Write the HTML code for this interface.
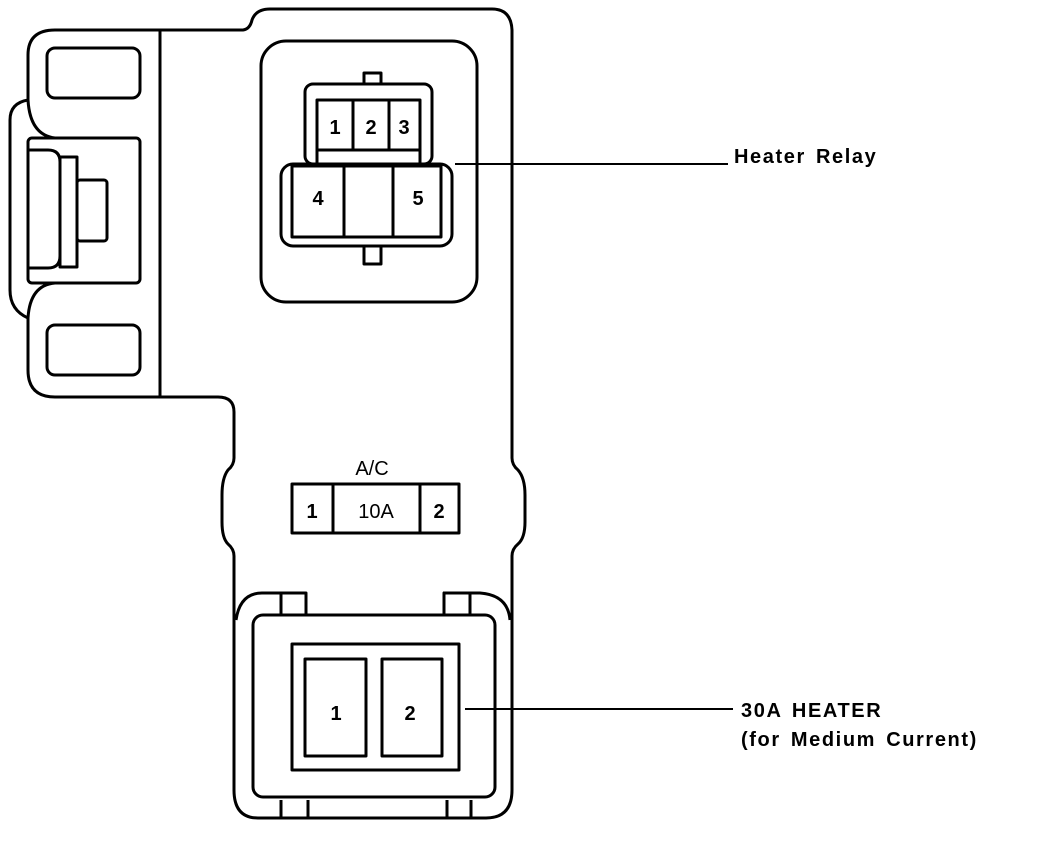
<!DOCTYPE html>
<html><head><meta charset="utf-8"><style>
html,body{margin:0;padding:0;background:#fff;}
svg{display:block}
text{font-family:"Liberation Sans",sans-serif;fill:#000}
</style></head><body>
<svg width="1056" height="848" viewBox="0 0 1056 848" xmlns="http://www.w3.org/2000/svg">
<g fill="none" stroke="#000" stroke-width="3" stroke-linejoin="round">
<path d="M160,30 L243,30 Q250,29 252,20 Q256,9 270,9 L492,9 Q511,9 512,30 L512,458 Q512,465 518,470 Q525,478 525,495 L525,522 Q525,538 518,544 Q512,549 512,556 L512,790 Q512,818 486,818 L258,818 Q234,818 234,790 L234,556 Q234,549 228,544 Q222,538 222,522 L222,495 Q222,478 228,470 Q234,465 234,458 L234,412 Q234,397 218,397 L55,397 Q28,397 28,370 L28,318 Q10,310 10,290 L10,120 Q10,103 28,100 L28,55 Q28,30 55,30 Z"/>
<line x1="160" y1="30" x2="160" y2="397"/>
<path d="M28,100 Q30,135 55,138"/>
<path d="M28,318 Q30,285 55,283"/>
<rect x="28" y="138" width="112" height="145" rx="4"/>
<rect x="47" y="48" width="93" height="50" rx="8"/>
<rect x="47" y="325" width="93" height="50" rx="8"/>
<path d="M29,150 L48,150 Q60,150 60,162 L60,256 Q60,268 48,268 L29,268"/>
<rect x="60" y="157" width="17" height="110"/>
<rect x="77" y="180" width="30" height="61" rx="3"/>
<rect x="261" y="41" width="216" height="261" rx="25"/>
<rect x="305" y="84" width="127" height="80" rx="8"/>
<rect x="364" y="73" width="17" height="11"/>
<rect x="317" y="100" width="103" height="64"/>
<line x1="317" y1="150" x2="420" y2="150"/>
<line x1="353" y1="100" x2="353" y2="150"/>
<line x1="389" y1="100" x2="389" y2="150"/>
<rect x="281" y="164" width="171" height="82" rx="12" fill="#fff"/>
<rect x="292" y="166" width="149" height="71"/>
<line x1="344" y1="166" x2="344" y2="237"/>
<line x1="393" y1="166" x2="393" y2="237"/>
<rect x="364" y="246" width="17" height="18"/>
<rect x="292" y="484" width="167" height="49"/>
<line x1="333" y1="484" x2="333" y2="533"/>
<line x1="420" y1="484" x2="420" y2="533"/>
<path d="M236,620 Q240,593 262,593 L306,593"/>
<path d="M443,593 L480,593 Q508,595 510,620"/>
<rect x="281" y="593" width="25" height="22"/>
<rect x="444" y="593" width="26" height="22"/>
<rect x="253" y="615" width="242" height="182" rx="10"/>
<rect x="292" y="644" width="167" height="126"/>
<rect x="305" y="659" width="61" height="97"/>
<rect x="382" y="659" width="60" height="97"/>
<line x1="281" y1="800" x2="281" y2="818"/>
<line x1="308" y1="800" x2="308" y2="818"/>
<line x1="447" y1="800" x2="447" y2="818"/>
<line x1="471" y1="800" x2="471" y2="818"/>
</g>
<g stroke="#000" stroke-width="2">
<line x1="455" y1="164" x2="728" y2="164"/>
<line x1="465" y1="709" x2="733" y2="709"/>
</g>
<g font-weight="bold" text-anchor="middle" font-size="20">
<text x="335" y="134">1</text><text x="371" y="134">2</text><text x="404" y="134">3</text>
<text x="318" y="205">4</text><text x="418" y="205">5</text>
<text x="372" y="475" font-weight="normal">A/C</text>
<text x="312" y="518">1</text><text x="376" y="518" font-weight="normal">10A</text><text x="439" y="518">2</text>
<text x="336" y="720">1</text><text x="410" y="720">2</text>
</g>
<g font-size="20" font-weight="bold" style="letter-spacing:1.6px;word-spacing:3px">
<text x="734" y="163">Heater Relay</text>
<text x="741" y="717">30A HEATER</text>
<text x="741" y="746">(for Medium Current)</text>
</g>
</svg>
</body></html>
